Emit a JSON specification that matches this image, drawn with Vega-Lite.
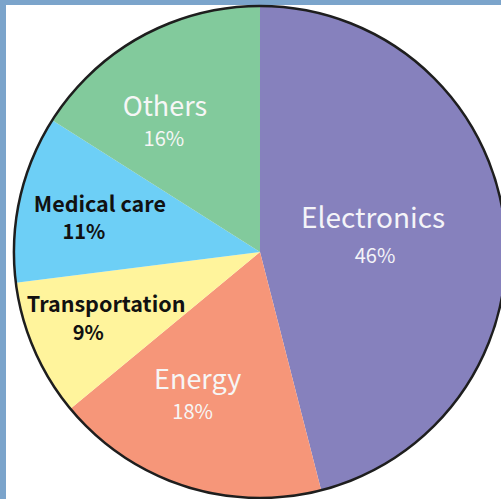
{
  "$schema": "https://vega.github.io/schema/vega-lite/v6.json",
  "width": 508,
  "height": 494,
  "autosize": {"type": "none"},
  "padding": {"left": 6, "top": 5, "right": -13, "bottom": 0},
  "background": "#7BA4CB",
  "view": {"fill": "white", "stroke": null},
  "data": {
    "values": [
      {"rank": 1, "category": "Electronics", "value": 46, "pct": "46%"},
      {"rank": 2, "category": "Energy", "value": 18, "pct": "18%"},
      {"rank": 3, "category": "Transportation", "value": 9, "pct": "9%"},
      {"rank": 4, "category": "Medical care", "value": 11, "pct": "11%"},
      {"rank": 5, "category": "Others", "value": 16, "pct": "16%"}
    ]
  },
  "encoding": {
    "theta": {"field": "value", "type": "quantitative", "stack": true, "scale": {"domain": [0, 100]}},
    "order": {"field": "rank", "type": "quantitative"},
    "detail": {"field": "category"}
  },
  "layer": [
    {
      "mark": {"type": "arc", "outerRadius": 246},
      "encoding": {
        "color": {
          "field": "category", "type": "nominal", "legend": null,
          "scale": {
            "domain": ["Electronics", "Energy", "Transportation", "Medical care", "Others"],
            "range": ["#8681BD", "#F69679", "#FFF49C", "#6DCFF6", "#82CA9C"]
          }
        }
      }
    },
    {
      "data": {"values": [{"ring": 1}]},
      "mark": {"type": "arc", "theta": 0, "theta2": 6.2833, "outerRadius": 246, "fill": null, "stroke": "#1E1E1E", "strokeWidth": 2.5},
      "encoding": {"theta": null, "order": null, "detail": null}
    },
    {
      "mark": {"type": "text", "radius": 118, "dx": -4, "dy": -17, "font": "Noto Sans CJK JP", "fontSize": 28, "fill": "#F4F4F8"},
      "encoding": {
        "text": {"field": "category"},
        "opacity": {"condition": {"test": "datum.category === 'Electronics'", "value": 1}, "value": 0}
      }
    },
    {
      "mark": {"type": "text", "radius": 118, "dx": -2, "dy": 20, "font": "Noto Sans CJK JP", "fontSize": 20, "fill": "#F4F4F8"},
      "encoding": {
        "text": {"field": "pct"},
        "opacity": {"condition": {"test": "datum.category === 'Electronics'", "value": 1}, "value": 0}
      }
    },
    {
      "mark": {"type": "text", "radius": 150, "dx": -16, "dy": -14, "font": "Noto Sans CJK JP", "fontSize": 27, "fill": "#F6F6F6"},
      "encoding": {
        "text": {"field": "category"},
        "opacity": {"condition": {"test": "datum.category === 'Energy'", "value": 1}, "value": 0}
      }
    },
    {
      "mark": {"type": "text", "radius": 150, "dx": -21, "dy": 18, "font": "Noto Sans CJK JP", "fontSize": 20, "fill": "#F6F6F6"},
      "encoding": {
        "text": {"field": "pct"},
        "opacity": {"condition": {"test": "datum.category === 'Energy'", "value": 1}, "value": 0}
      }
    },
    {
      "mark": {"type": "text", "radius": 160, "dx": -18, "dy": -4, "font": "Noto Sans CJK JP", "fontSize": 27, "fill": "#F6F6F6"},
      "encoding": {
        "text": {"field": "category"},
        "opacity": {"condition": {"test": "datum.category === 'Others'", "value": 1}, "value": 0}
      }
    },
    {
      "mark": {"type": "text", "radius": 160, "dx": -19, "dy": 28, "font": "Noto Sans CJK JP", "fontSize": 20, "fill": "#F6F6F6"},
      "encoding": {
        "text": {"field": "pct"},
        "opacity": {"condition": {"test": "datum.category === 'Others'", "value": 1}, "value": 0}
      }
    },
    {
      "mark": {"type": "text", "radius": 160, "dx": -4, "dy": -11, "font": "Noto Sans CJK JP", "fontSize": 21.5, "fontWeight": "bold", "fill": "#111111"},
      "encoding": {
        "text": {"field": "category"},
        "opacity": {"condition": {"test": "datum.category === 'Medical care'", "value": 1}, "value": 0}
      }
    },
    {
      "mark": {"type": "text", "radius": 160, "dx": -20, "dy": 16, "font": "Noto Sans CJK JP", "fontSize": 20, "fontWeight": "bold", "fill": "#111111"},
      "encoding": {
        "text": {"field": "pct"},
        "opacity": {"condition": {"test": "datum.category === 'Medical care'", "value": 1}, "value": 0}
      }
    },
    {
      "mark": {"type": "text", "radius": 160, "dx": -7, "dy": -10, "font": "Noto Sans CJK JP", "fontSize": 21.5, "fontWeight": "bold", "fill": "#111111"},
      "encoding": {
        "text": {"field": "category"},
        "opacity": {"condition": {"test": "datum.category === 'Transportation'", "value": 1}, "value": 0}
      }
    },
    {
      "mark": {"type": "text", "radius": 160, "dx": -25, "dy": 18, "font": "Noto Sans CJK JP", "fontSize": 20, "fontWeight": "bold", "fill": "#111111"},
      "encoding": {
        "text": {"field": "pct"},
        "opacity": {"condition": {"test": "datum.category === 'Transportation'", "value": 1}, "value": 0}
      }
    }
  ]
}
